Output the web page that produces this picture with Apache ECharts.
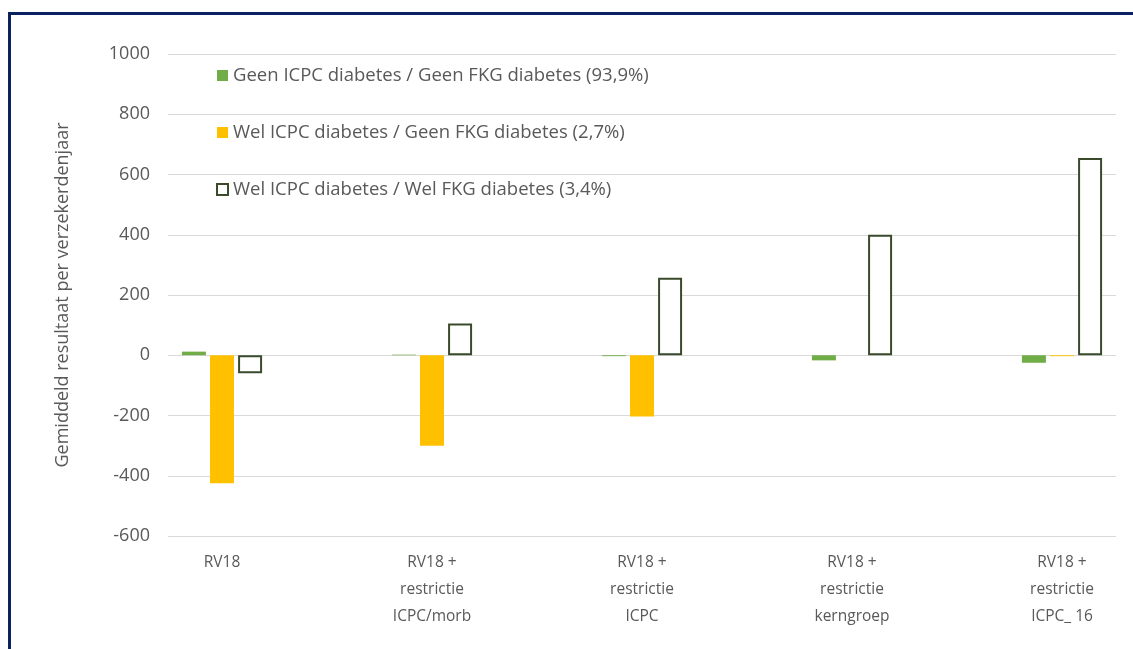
<!DOCTYPE html>
<html>
<head>
<meta charset="utf-8">
<script src="https://cdn.jsdelivr.net/npm/echarts@6/dist/echarts.min.js"></script>
<style>
  html, body { margin: 0; padding: 0; background: #fff; }
  #chart { width: 1133px; height: 649px; }
  .frame {
    position: absolute; left: 8px; top: 12px; width: 1200px; height: 700px;
    border-left: 3px solid #0b2262; border-top: 3px solid #0b2262;
    pointer-events: none;
  }
</style>
</head>
<body>
<div id="chart"></div>
<div class="frame"></div>
<script>
  // categories and series values
  const categories = ['RV18', 'RV18 +\nrestrictie\nICPC/morb', 'RV18 +\nrestrictie\nICPC',
                      'RV18 +\nrestrictie\nkerngroep', 'RV18 +\nrestrictie\nICPC_ 16']
  const geenGeen = [12, 2, -3, -17, -25]
  const welGeen = [-425, -300, -203, 0, -3]
  const welWel = [-60, 105, 257, 400, 655]
  const seriesNames = [
    'Geen ICPC diabetes / Geen FKG diabetes (93,9%)',
    'Wel ICPC diabetes / Geen FKG diabetes (2,7%)',
    'Wel ICPC diabetes / Wel FKG diabetes (3,4%)'
  ]
  const yMin = -600, yMax = 1000, yStep = 200

  const txt = '#595959'
  const font = 'Open Sans'

  let myChart = echarts.init(document.getElementById('chart'))
  myChart.setOption({
    animation: false,
    textStyle: { fontFamily: font },
    legend: {
      orient: 'vertical',
      left: 211, top: 61,
      icon: 'rect',
      itemWidth: 11, itemHeight: 11,
      itemGap: 38,
      textStyle: { color: txt, fontSize: 18.5, fontFamily: font },
      data: seriesNames
    },
    grid: [
      // gridlines + y labels
      { left: 168, right: 17, top: 54, bottom: 113, outerBoundsMode: 'none' },
      // bars + category labels (wider than the gridlines, as in the original)
      { left: 117, right: -34, top: 54, bottom: 113, outerBoundsMode: 'none' }
    ],
    xAxis: [
      { gridIndex: 0, type: 'category', data: categories, show: false },
      {
        gridIndex: 1, type: 'category', data: categories,
        axisLine: { show: false, onZero: false },
        axisTick: { show: false },
        axisLabel: { color: txt, fontSize: 15.5, lineHeight: 27, margin: 13, fontFamily: font }
      }
    ],
    yAxis: [
      {
        gridIndex: 0, type: 'value', min: yMin, max: yMax, interval: yStep,
        name: 'Gemiddeld resultaat per verzekerdenjaar',
        nameLocation: 'middle', nameGap: 96,
        nameTextStyle: { color: txt, fontSize: 18, fontFamily: font },
        axisLabel: { color: txt, fontSize: 18, margin: 18, formatter: v => String(v) },
        axisLine: { show: false }, axisTick: { show: false },
        splitLine: { lineStyle: { color: '#d9d9d9', width: 1 } }
      },
      {
        gridIndex: 1, type: 'value', min: yMin, max: yMax, interval: yStep,
        show: false, splitLine: { show: false }
      }
    ],
    series: [
      {
        name: seriesNames[0], type: 'bar', xAxisIndex: 1, yAxisIndex: 1,
        data: geenGeen, barWidth: 24, barGap: '17%',
        itemStyle: { color: '#70ad47' }
      },
      {
        name: seriesNames[1], type: 'bar', xAxisIndex: 1, yAxisIndex: 1,
        data: welGeen, barWidth: 24, barGap: '17%',
        itemStyle: { color: '#ffc000' }
      },
      {
        name: seriesNames[2], type: 'bar', xAxisIndex: 1, yAxisIndex: 1,
        data: welWel, barWidth: 24, barGap: '17%',
        itemStyle: { color: '#ffffff', borderColor: '#3a4b2c', borderWidth: 2 }
      }
    ]
  })
</script>
</body>
</html>
